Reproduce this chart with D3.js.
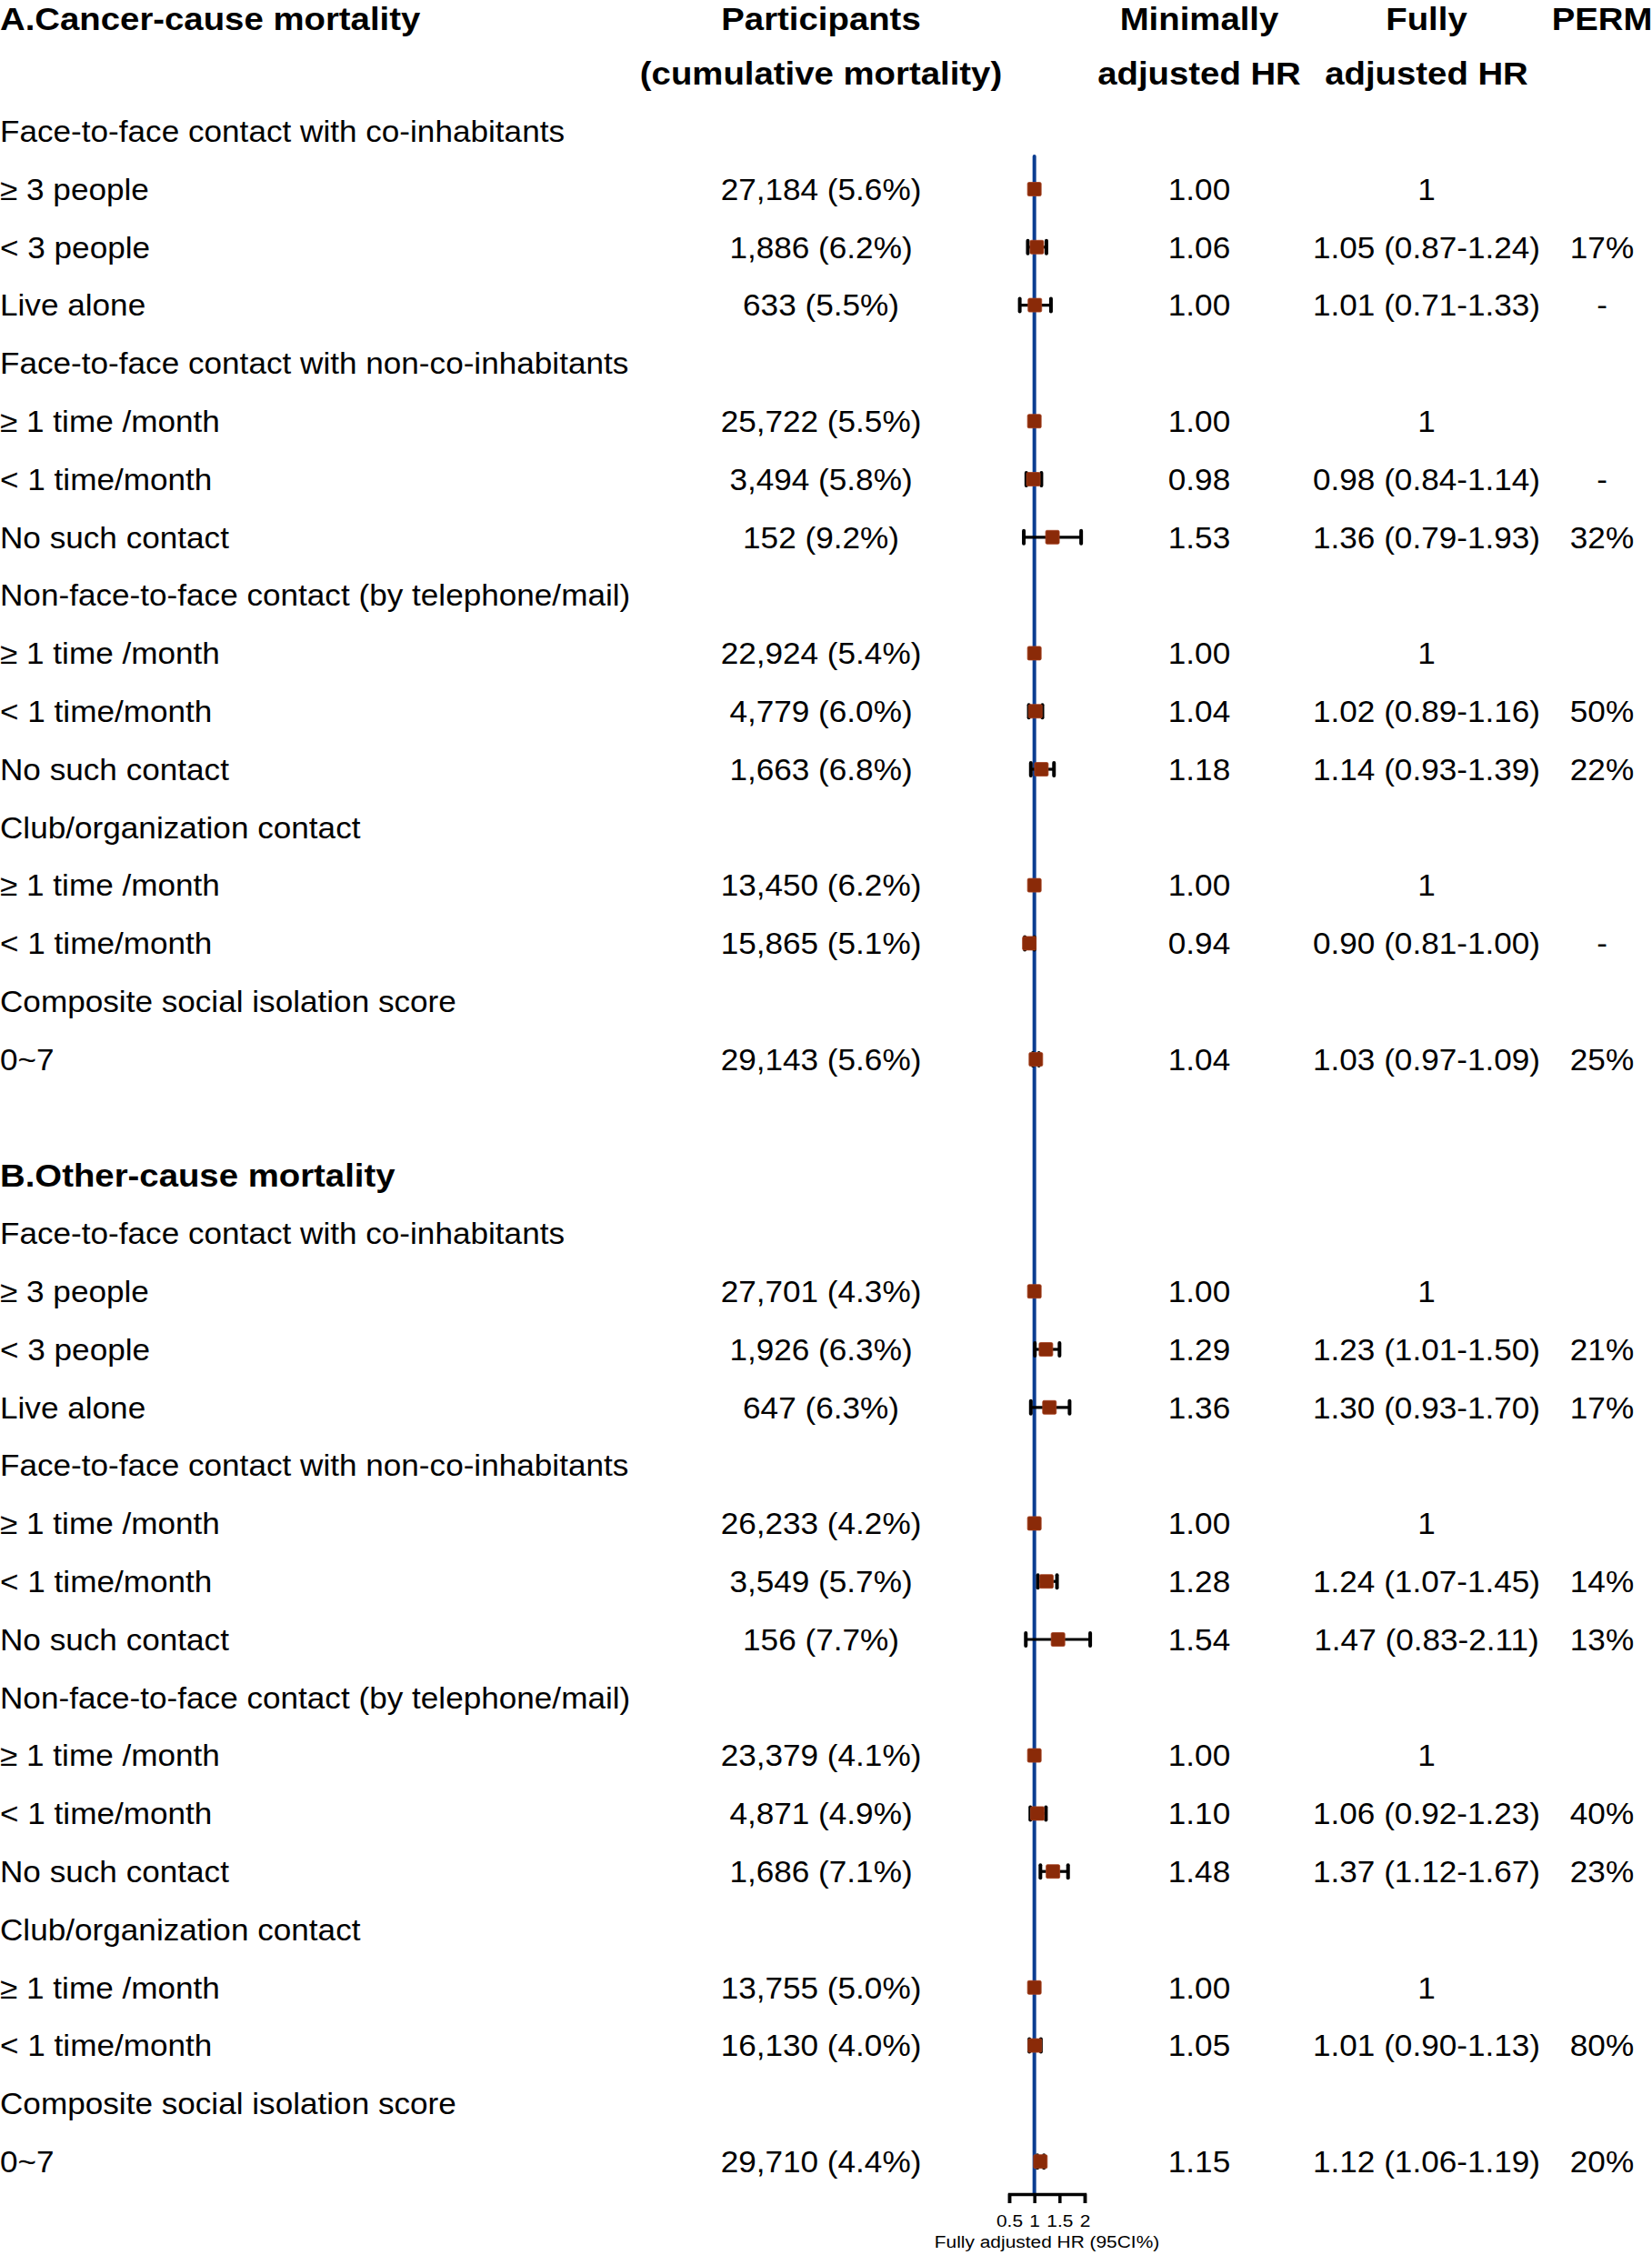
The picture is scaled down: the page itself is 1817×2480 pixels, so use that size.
<!DOCTYPE html>
<html>
<head>
<meta charset="utf-8">
<script src="https://cdn.jsdelivr.net/npm/d3@7"></script>
<style>
  body { margin: 0; background: #fff; }
  text { font-family: "Liberation Sans", Arial, sans-serif; fill: #000; }
</style>
</head>
<body>
<div id="chart"></div>
<script>
// group / level labels (same for both outcomes)
const groupNames = [
  "Face-to-face contact with co-inhabitants",
  "Face-to-face contact with non-co-inhabitants",
  "Non-face-to-face contact (by telephone/mail)",
  "Club/organization contact",
  "Composite social isolation score"
];
const levelLabels = [
  ["≥ 3 people", "< 3 people", "Live alone"],
  ["≥ 1 time /month", "< 1 time/month", "No such contact"],
  ["≥ 1 time /month", "< 1 time/month", "No such contact"],
  ["≥ 1 time /month", "< 1 time/month"],
  ["0~7"]
];

// A. cancer-cause mortality
const participantsA = ["27,184 (5.6%)", "1,886 (6.2%)", "633 (5.5%)", "25,722 (5.5%)", "3,494 (5.8%)", "152 (9.2%)",
  "22,924 (5.4%)", "4,779 (6.0%)", "1,663 (6.8%)", "13,450 (6.2%)", "15,865 (5.1%)", "29,143 (5.6%)"];
const minHRA = [1.00, 1.06, 1.00, 1.00, 0.98, 1.53, 1.00, 1.04, 1.18, 1.00, 0.94, 1.04];
const fullHRA = [1, 1.05, 1.01, 1, 0.98, 1.36, 1, 1.02, 1.14, 1, 0.90, 1.03];
const lowerA = [null, 0.87, 0.71, null, 0.84, 0.79, null, 0.89, 0.93, null, 0.81, 0.97];
const upperA = [null, 1.24, 1.33, null, 1.14, 1.93, null, 1.16, 1.39, null, 1.00, 1.09];
const permA = ["", "17%", "-", "", "-", "32%", "", "50%", "22%", "", "-", "25%"];

// B. other-cause mortality
const participantsB = ["27,701 (4.3%)", "1,926 (6.3%)", "647 (6.3%)", "26,233 (4.2%)", "3,549 (5.7%)", "156 (7.7%)",
  "23,379 (4.1%)", "4,871 (4.9%)", "1,686 (7.1%)", "13,755 (5.0%)", "16,130 (4.0%)", "29,710 (4.4%)"];
const minHRB = [1.00, 1.29, 1.36, 1.00, 1.28, 1.54, 1.00, 1.10, 1.48, 1.00, 1.05, 1.15];
const fullHRB = [1, 1.23, 1.30, 1, 1.24, 1.47, 1, 1.06, 1.37, 1, 1.01, 1.12];
const lowerB = [null, 1.01, 0.93, null, 1.07, 0.83, null, 0.92, 1.12, null, 0.90, 1.06];
const upperB = [null, 1.50, 1.70, null, 1.45, 2.11, null, 1.23, 1.67, null, 1.13, 1.19];
const permB = ["", "21%", "17%", "", "14%", "13%", "", "40%", "23%", "", "80%", "20%"];

const axisTicks = [0.5, 1, 1.5, 2];

const width = 1817, height = 2480;
const fs = 33, fsBold = 35.5;
const sxReg = 1.065, sxBold = 1.08;   // glyphs in the figure are a bit wide
const col = {participants: 903, minHR: 1319, fullHR: 1569, perm: 1762};

const svg = d3.select("#chart").append("svg")
  .attr("width", width)
  .attr("height", height);
svg.append("rect").attr("width", width).attr("height", height).attr("fill", "#fff");

const y = d3.scaleLinear().domain([0, 37]).range([16.6, 2377.2]);
const x = d3.scaleLinear().domain([0.5, 2]).range([1110, 1193]);

function addText(px, row, str, anchor, bold) {
  const size = bold ? fsBold : fs;
  const sx = bold ? sxBold : sxReg;
  // keep the top header row inside the page
  const base = Math.max(y(row) + size * 0.716 / 2, size * 0.93);
  svg.append("text")
    .attr("transform", "translate(" + px + "," + base + ") scale(" + sx + ",1)")
    .attr("text-anchor", anchor)
    .style("font-size", size + "px")
    .style("font-weight", bold ? "bold" : "normal")
    .text(str);
}

// build the row table from the arrays
function buildRows(startRow, participants, minHR, fullHR, lower, upper, perm) {
  let rows = [], r = startRow, i = 0;
  groupNames.forEach(function(g, gi) {
    rows.push({row: r++, type: "group", label: g});
    levelLabels[gi].forEach(function(l) {
      rows.push({row: r++, type: "level", label: l, participants: participants[i], minHR: minHR[i],
        hr: fullHR[i], lo: lower[i], hi: upper[i], perm: perm[i]});
      i++;
    });
  });
  return rows;
}

const rowsA = buildRows(2, participantsA, minHRA, fullHRA, lowerA, upperA, permA);
const rowsB = buildRows(21, participantsB, minHRB, fullHRB, lowerB, upperB, permB);
const allRows = rowsA.concat(rowsB);

// headers
addText(0, 0, "A.Cancer-cause mortality", "start", true);
addText(0, 20, "B.Other-cause mortality", "start", true);
addText(col.participants, 0, "Participants", "middle", true);
addText(col.participants, 1, "(cumulative mortality)", "middle", true);
addText(col.minHR, 0, "Minimally", "middle", true);
addText(col.minHR, 1, "adjusted HR", "middle", true);
addText(col.fullHR, 0, "Fully", "middle", true);
addText(col.fullHR, 1, "adjusted HR", "middle", true);
addText(col.perm, 0, "PERM", "middle", true);

allRows.forEach(function(d) {
  addText(0, d.row, d.label, "start", false);
  if (d.type !== "level") return;
  addText(col.participants, d.row, d.participants, "middle", false);
  addText(col.minHR, d.row, d.minHR.toFixed(2), "middle", false);
  const full = d.lo == null ? "1" : d.hr.toFixed(2) + " (" + d.lo.toFixed(2) + "-" + d.hi.toFixed(2) + ")";
  addText(col.fullHR, d.row, full, "middle", false);
  if (d.perm) addText(col.perm, d.row, d.perm, "middle", false);
});

// forest plot
const axisY = 2413;
const plot = svg.append("g");

plot.append("line")
  .attr("x1", x(1)).attr("x2", x(1))
  .attr("y1", 172).attr("y2", axisY)
  .attr("stroke", "#0b3d91")
  .attr("stroke-width", 4)
  .attr("stroke-linecap", "round");

const levels = allRows.filter(function(d) { return d.type === "level"; });
const ci = levels.filter(function(d) { return d.lo != null; });

plot.selectAll(".whisker")
  .data(ci)
  .enter().append("line")
  .attr("class", "whisker")
  .attr("x1", function(d) { return x(d.lo); })
  .attr("x2", function(d) { return x(d.hi); })
  .attr("y1", function(d) { return y(d.row); })
  .attr("y2", function(d) { return y(d.row); })
  .attr("stroke", "#000").attr("stroke-width", 3.2);

["lo", "hi"].forEach(function(k) {
  plot.selectAll(".cap-" + k)
    .data(ci)
    .enter().append("line")
    .attr("class", "cap-" + k)
    .attr("x1", function(d) { return x(d[k]); })
    .attr("x2", function(d) { return x(d[k]); })
    .attr("y1", function(d) { return y(d.row) - 7; })
    .attr("y2", function(d) { return y(d.row) + 7; })
    .attr("stroke", "#000").attr("stroke-width", 4)
    .attr("stroke-linecap", "round");
});

plot.selectAll(".marker")
  .data(levels)
  .enter().append("rect")
  .attr("class", "marker")
  .attr("x", function(d) { return x(d.hr) - 7.5; })
  .attr("y", function(d) { return y(d.row) - 7.5; })
  .attr("width", 15).attr("height", 15)
  .attr("rx", 1.5)
  .attr("fill", "#8a2a08")
  .attr("stroke", "#a3401f").attr("stroke-width", 0.8);

// axis
const axis = svg.append("g")
  .attr("transform", "translate(0," + axisY + ")")
  .call(d3.axisBottom(x).tickValues(axisTicks).tickFormat(d3.format("")).tickSize(10).tickPadding(13));
axis.select(".domain").attr("stroke", "#000").attr("stroke-width", 3.5);
axis.selectAll(".tick line").attr("stroke", "#000").attr("stroke-width", 3.5);
axis.selectAll(".tick text")
  .attr("transform", "scale(1.1,1)")
  .style("font-size", "19px")
  .style("font-family", "'Liberation Sans', Arial, sans-serif")
  .attr("fill", "#000");

svg.append("text")
  .attr("transform", "translate(" + ((x(0.5) + x(2)) / 2) + ",2472) scale(1.1,1)")
  .attr("text-anchor", "middle")
  .style("font-size", "19px")
  .text("Fully adjusted HR (95CI%)");
</script>
</body>
</html>
